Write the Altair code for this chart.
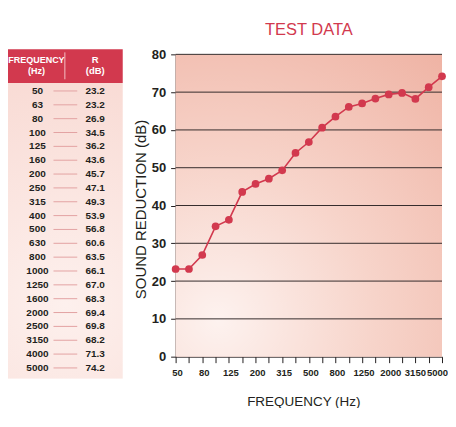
import altair as alt
import pandas as pd

freqs = ["50", "63", "80", "100", "125", "160", "200", "250", "315", "400",
         "500", "630", "800", "1000", "1250", "1600", "2000", "2500", "3150",
         "4000", "5000"]
r_values = [23.2, 23.2, 26.9, 34.5, 36.2, 43.6, 45.7, 47.1, 49.3, 53.9,
            56.8, 60.6, 63.5, 66.1, 67.0, 68.3, 69.4, 69.8, 68.2, 71.3, 74.2]
y_ticks = [0, 10, 20, 30, 40, 50, 60, 70, 80]
grid_values = [10, 20, 30, 40, 50, 60, 70, 80]
x_label_freqs = ["50", "80", "125", "200", "315", "500", "800", "1250",
                 "2000", "3150", "5000"]
header_left = ["FREQUENCY", "(Hz)"]
header_right = ["R", "(dB)"]
chart_title = "TEST DATA"

RED = "#d2394e"
DARK = "#231f20"
FONT = "Liberation Sans, Arial, sans-serif"

df = pd.DataFrame({"freq": freqs, "R": r_values,
                   "r_text": [f"{v:.1f}" for v in r_values]})
one = pd.DataFrame({"a": [0]})

W, H = 267, 303
TW = 115

# ---------------- plot panel ----------------
label_list = "[" + ",".join(f"'{f}'" for f in x_label_freqs) + "]"
last = freqs[-1]
first = freqs[0]
xenc = alt.X("freq:O", sort=freqs,
             scale=alt.Scale(type="point", padding=0),
             axis=alt.Axis(title="FREQUENCY (Hz)", labelAngle=0,
                           labelExpr=f"indexof({label_list}, datum.value) >= 0 ? datum.value : ''",
                           labelFont=FONT, labelFontWeight="bold", labelFontSize=9.5,
                           labelColor=DARK, labelPadding=5, tickSize=6,
                           labelAlign={"condition": {"test": f"datum.value == '{last}'", "value": "right"},
                                       "value": "center"},
                           labelOffset={"condition": [
                               {"test": f"datum.value == '{last}'", "value": 5.5},
                               {"test": "datum.value == '3150'", "value": -0.5}],
                               "value": 1.5},
                           labelOverlap=False,
                           tickColor=DARK, domainColor=DARK,
                           titleFont=FONT, titleFontWeight="normal", titleFontSize=13.5,
                           titleColor=DARK, titlePadding=17, titleX=128))


def yenc(field):
    return alt.Y(field, scale=alt.Scale(domain=[0, 80], nice=False, zero=True),
                 axis=alt.Axis(title="SOUND REDUCTION (dB)", values=y_ticks, grid=False,
                               labelFont=FONT, labelFontWeight="bold", labelFontSize=13,
                               labelColor=DARK, labelPadding=5, tickSize=5,
                               labelOverlap=False,
                               tickColor=DARK, domainColor=DARK,
                               titleFont=FONT, titleFontWeight="normal", titleFontSize=15,
                               titleColor=DARK, titlePadding=3, titleY=155))


plot_bg = alt.RadialGradient(
    gradient="radial", x1=0.2, y1=0.88, r1=0.0, x2=0.2, y2=0.88, r2=1.15,
    stops=[alt.GradientStop(color="#fdf2ef", offset=0),
           alt.GradientStop(color="#f7d4ca", offset=0.45),
           alt.GradientStop(color="#efb3a4", offset=1)])

bg = alt.Chart(one).mark_rect(fill=plot_bg).encode(
    x=alt.value(0), x2=alt.value(W), y=alt.value(0), y2=alt.value(H))

grid = alt.Chart(pd.DataFrame({"R": grid_values})).mark_rule(
    color="#352c2c", strokeWidth=1).encode(
    y=yenc("R:Q"), x=alt.value(0), x2=alt.value(W))

base = alt.Chart(df).encode(x=xenc, y=yenc("R:Q"))
line = base.mark_line(color=RED, strokeWidth=1.6)
pts = base.mark_circle(color=RED, size=60, opacity=1)

title = alt.Chart(one).mark_text(
    text=chart_title, font=FONT, fontSize=16.5, color=RED,
    align="center", baseline="alphabetic").encode(
    x=alt.value(W / 2), y=alt.value(-19))

plot = alt.layer(bg, grid, line, pts, title).properties(width=W, height=H)

# ---------------- table panel ----------------
tbl_bg_grad = alt.RadialGradient(
    gradient="radial", x1=0.5, y1=0.75, r1=0.0, x2=0.5, y2=0.75, r2=0.9,
    stops=[alt.GradientStop(color="#fdf0ed", offset=0),
           alt.GradientStop(color="#f8d8d1", offset=1)])

tbl_bg = alt.Chart(one).mark_rect(fill=tbl_bg_grad).encode(
    x=alt.value(0), x2=alt.value(TW), y=alt.value(28.7), y2=alt.value(325))
hdr = alt.Chart(one).mark_rect(fill=RED).encode(
    x=alt.value(0), x2=alt.value(TW), y=alt.value(-5), y2=alt.value(28.7))
hdr_div = alt.Chart(one).mark_rule(color="#f3c0c5", strokeWidth=1).encode(
    x=alt.value(57), y=alt.value(-2), y2=alt.value(25))

hl = pd.DataFrame({"t": header_left, "yy": [6, 16.5]})
hr = pd.DataFrame({"t": header_right, "yy": [6, 16.5]})
hdr_l = alt.Chart(hl).mark_text(font=FONT, fontWeight="bold", fontSize=9,
                                color="white", baseline="middle").encode(
    x=alt.value(28.5), y=alt.Y("yy:Q", scale=None), text="t:N")
hdr_r = alt.Chart(hr).mark_text(font=FONT, fontWeight="bold", fontSize=9.5,
                                color="white", baseline="middle").encode(
    x=alt.value(87.4), y=alt.Y("yy:Q", scale=None), text="t:N")

ty = alt.Y("freq:O", sort=freqs,
           scale=alt.Scale(type="point", range=[36.7, 314.3], padding=0),
           axis=None)
tbase = alt.Chart(df).encode(y=ty)
t_freq = tbase.mark_text(font=FONT, fontWeight="bold", fontSize=10,
                         color=DARK, baseline="middle").encode(
    x=alt.value(29.5), text="freq:N")
t_dash = tbase.mark_rule(color="#e3a3a3", strokeWidth=1).encode(
    x=alt.value(45.6), x2=alt.value(69.4))
t_val = tbase.mark_text(font=FONT, fontWeight="bold", fontSize=10,
                        color=DARK, baseline="middle").encode(
    x=alt.value(87.4), text="r_text:N")

table = alt.layer(tbl_bg, hdr, hdr_div, hdr_l, hdr_r, t_dash, t_freq, t_val).properties(
    width=TW, height=H)

chart = alt.hconcat(table, plot, spacing=10).resolve_scale(
    x="independent", y="independent").configure_view(stroke=None).properties(
    padding={"left": 0, "top": 14, "right": 0, "bottom": 0})

chart.save("out.html", embed_options={"renderer": "svg", "actions": False})
